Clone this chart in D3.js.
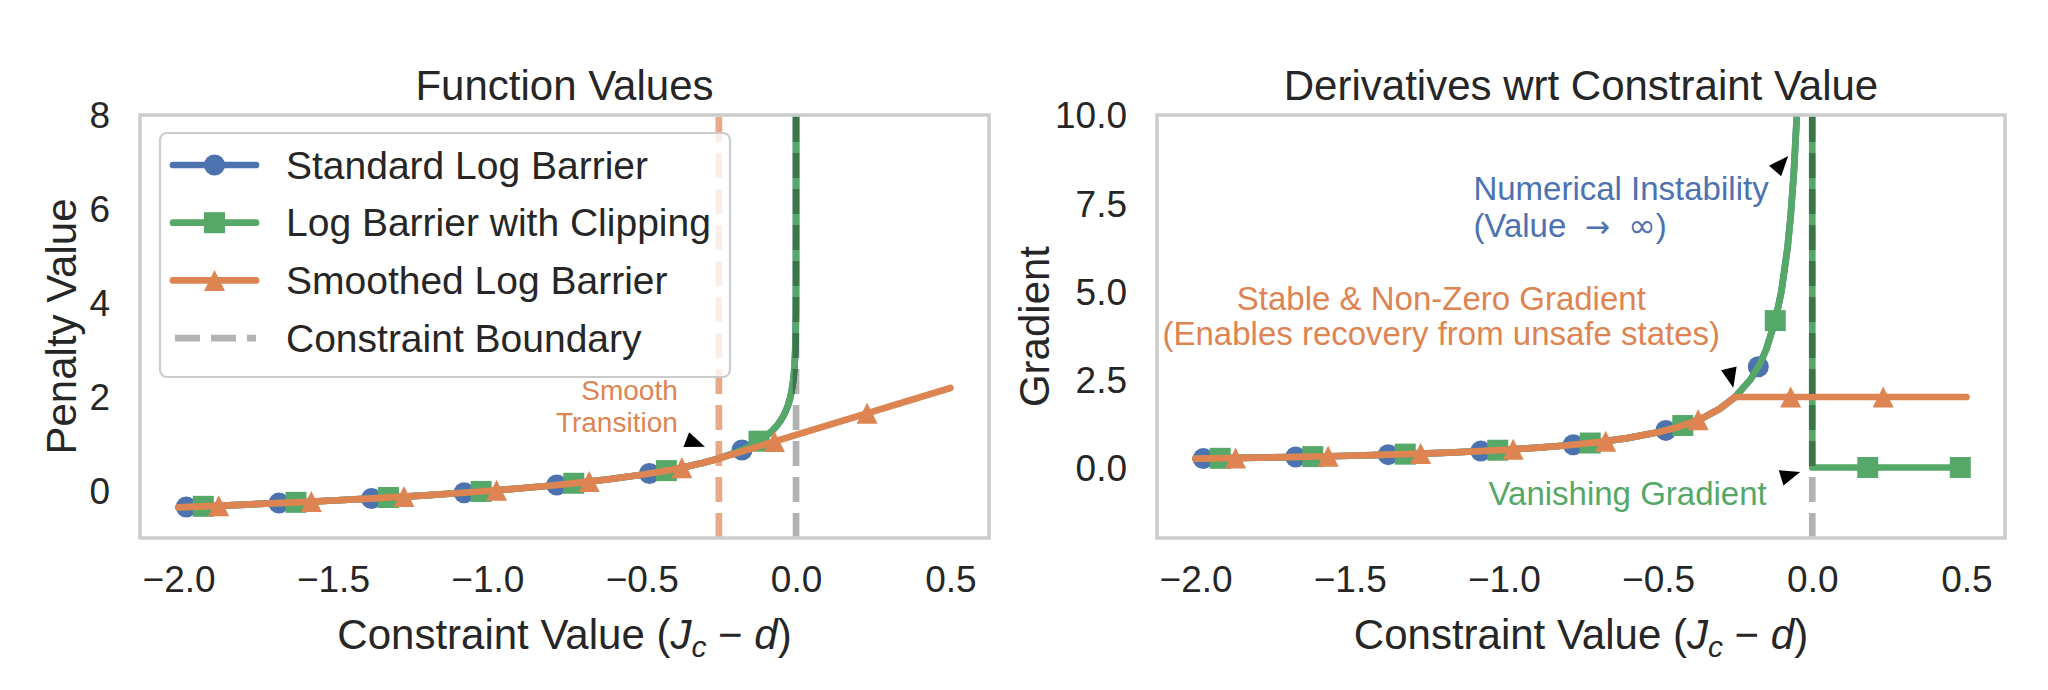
<!DOCTYPE html>
<html><head><meta charset="utf-8">
<script src="https://cdn.jsdelivr.net/npm/d3@7"></script>
<style>
body{margin:0;background:#fff}
text{font-family:"Liberation Sans",Arial,Helvetica,sans-serif;fill:#262626}
</style>
</head><body>
<svg id="c" width="2048" height="690"></svg>
<script>
// ---------------- data ----------------
const curveX = [-2.0,-1.9,-1.8,-1.7,-1.6,-1.5,-1.4,-1.3,-1.2,-1.1,-1.0,-0.9,-0.8,-0.7,-0.6,-0.5,-0.45,-0.4,-0.35,-0.3,-0.25,-0.2,-0.17,-0.15,-0.12,-0.1,-0.08,-0.06,-0.05,-0.04,-0.03,-0.025,-0.02,-0.015,-0.01,-0.007,-0.005,-0.003,-0.002,-0.001,-0.0005,-0.0002,-0.0001,-0.00001,-0.000001,-0.0000001];
const standardValue = [-0.3466,-0.3209,-0.2939,-0.2653,-0.2350,-0.2027,-0.1682,-0.1312,-0.0912,-0.0477,0.0000,0.0527,0.1116,0.1783,0.2554,0.3466,0.3993,0.4581,0.5249,0.6020,0.6931,0.8047,0.8860,0.9486,1.0601,1.1513,1.2629,1.4067,1.4979,1.6094,1.7533,1.8444,1.9560,2.0999,2.3026,2.4809,2.6492,2.9046,3.1073,3.4539,3.8005,4.2586,4.6052,5.7565,6.9078,8.0590];
const clippedValue = standardValue.concat([9.2103, 9.2103]);
const clippedX = curveX.concat([0.0, 0.5]);
const smoothX = [-2.0,-1.9,-1.8,-1.7,-1.6,-1.5,-1.4,-1.3,-1.2,-1.1,-1.0,-0.9,-0.8,-0.7,-0.6,-0.5,-0.45,-0.4,-0.35,-0.3,-0.25,0.5];
const smoothValue = [-0.3466,-0.3209,-0.2939,-0.2653,-0.2350,-0.2027,-0.1682,-0.1312,-0.0912,-0.0477,0.0000,0.0527,0.1116,0.1783,0.2554,0.3466,0.3993,0.4581,0.5249,0.6020,0.6931,2.1931];

const gradX = [-2.0,-1.9,-1.8,-1.7,-1.6,-1.5,-1.4,-1.3,-1.2,-1.1,-1.0,-0.9,-0.8,-0.7,-0.6,-0.5,-0.45,-0.4,-0.35,-0.3,-0.25,-0.2,-0.17,-0.15,-0.12,-0.1,-0.08,-0.07,-0.06,-0.05,-0.04,-0.03,-0.025,-0.02,-0.015,-0.01,-0.005,-0.002,-0.001];
const standardGrad = [0.2500,0.2632,0.2778,0.2941,0.3125,0.3333,0.3571,0.3846,0.4167,0.4545,0.5000,0.5556,0.6250,0.7143,0.8333,1.0000,1.1111,1.2500,1.4286,1.6667,2.0000,2.5000,2.9412,3.3333,4.1667,5.0000,6.2500,7.1429,8.3333,10.000,12.500,16.667,20.000,25.000,33.333,50.000,100.00,250.00,500.00];
const clippedGradX = gradX.concat([0.0, 0.5]);
const clippedGrad = standardGrad.concat([0.0, 0.0]);
const smoothGrad = [0.2500,0.2632,0.2778,0.2941,0.3125,0.3333,0.3571,0.3846,0.4167,0.4545,0.5000,0.5556,0.6250,0.7143,0.8333,1.0000,1.1111,1.2500,1.4286,1.6667,2.0000,2.0000];

// markers
const standardMarkX = [-1.975,-1.675,-1.375,-1.075,-0.775,-0.475,-0.175];
const standardMarkValue = [-0.3403,-0.2579,-0.1592,-0.0362,0.1275,0.3722,0.8715];
const standardMarkGrad = [0.2532,0.2985,0.3636,0.4651,0.6452,1.0526,2.8571];
const clippedMarkX = [-1.92,-1.62,-1.32,-1.02,-0.72,-0.42,-0.12,0.18,0.48];
const clippedMarkValue = [-0.3262,-0.2412,-0.1388,-0.0099,0.1643,0.4338,1.0601,9.2103,9.2103];
const clippedMarkGrad = [0.2604,0.3086,0.3788,0.4902,0.6944,1.1905,4.1667,0.0,0.0];
const smoothMarkX = [-1.87,-1.57,-1.27,-0.97,-0.67,-0.37,-0.07,0.23];
const smoothMarkValue = [-0.3130,-0.2255,-0.1195,0.0152,0.2002,0.4971,1.0531,1.6531];
const smoothMarkGrad = [0.2674,0.3185,0.3937,0.5155,0.7463,1.3514,2.0,2.0];

const xTicks = [-2.0,-1.5,-1.0,-0.5,0.0,0.5];
const xTickLabels = ["\u22122.0","\u22121.5","\u22121.0","\u22120.5","0.0","0.5"];
const leftYTicks = [0,2,4,6,8];
const leftYTickLabels = ["0","2","4","6","8"];
const rightYTicks = [0,2.5,5,7.5,10];
const rightYTickLabels = ["0.0","2.5","5.0","7.5","10.0"];
const legendLabels = ["Standard Log Barrier","Log Barrier with Clipping","Smoothed Log Barrier","Constraint Boundary"];
const boundaryX = 0.0;
const smoothThresholdX = -0.25;

(function(){
// ---------------- styles ----------------
const C = {blue:"#4C72B0", green:"#55A868", orange:"#DD8452"};
const LW = 6.7, MS = 21;
const svg = d3.select("#c");
const yTop = 115, yBot = 538;
const panels = [
  {id:"L", x0:140, x1:989, ydom:[-1,8], title:"Function Values", ylabel:"Penalty Value", ylabX:76,
   yticks:leftYTicks, ylabels:leftYTickLabels},
  {id:"R", x0:1157, x1:2005, ydom:[-2,10], title:"Derivatives wrt Constraint Value", ylabel:"Gradient", ylabX:1049,
   yticks:rightYTicks, ylabels:rightYTickLabels}
];

function markerPath(type, s){
  const h = s/2;
  if(type==="circle") return d3.symbol(d3.symbolCircle, Math.PI*h*h)();
  if(type==="square") return `M${-h},${-h}H${h}V${h}H${-h}Z`;
  return `M0,${-h}L${h},${h}L${-h},${h}Z`;
}

const defs = svg.append("defs");
panels.forEach((p,pi)=>{
  const x = d3.scaleLinear().domain([-2.125,0.625]).range([p.x0,p.x1]);
  const y = d3.scaleLinear().domain(p.ydom).range([yBot,yTop]);
  p.x=x; p.y=y;
  const g = svg.append("g");
  defs.append("clipPath").attr("id","clip"+p.id)
    .append("rect").attr("x",p.x0).attr("y",yTop).attr("width",p.x1-p.x0).attr("height",yBot-yTop);
  const plot = g.append("g").attr("clip-path",`url(#clip${p.id})`);
  const line = d3.line().x(d=>x(d[0])).y(d=>y(d[1]));
  const series = pi===0 ? [
    {xs:curveX, ys:standardValue, mx:standardMarkX, my:standardMarkValue, c:C.blue, m:"circle"},
    {xs:clippedX, ys:clippedValue, mx:clippedMarkX, my:clippedMarkValue, c:C.green, m:"square"},
    {xs:smoothX, ys:smoothValue, mx:smoothMarkX, my:smoothMarkValue, c:C.orange, m:"tri"}
  ] : [
    {xs:gradX, ys:standardGrad, mx:standardMarkX, my:standardMarkGrad, c:C.blue, m:"circle"},
    {xs:clippedGradX, ys:clippedGrad, mx:clippedMarkX, my:clippedMarkGrad, c:C.green, m:"square"},
    {xs:smoothX, ys:smoothGrad, mx:smoothMarkX, my:smoothMarkGrad, c:C.orange, m:"tri"}
  ];
  series.forEach(s=>{
    plot.append("path").datum(s.xs.map((v,i)=>[v,s.ys[i]]))
      .attr("d",line).attr("fill","none").attr("stroke",s.c).attr("stroke-width",LW)
      .attr("stroke-linecap","round").attr("stroke-linejoin","round");
    plot.selectAll(null).data(s.mx.map((v,i)=>[v,s.my[i]])).enter().append("path")
      .attr("d",markerPath(s.m,MS)).attr("fill",s.c)
      .attr("transform",d=>`translate(${x(d[0])},${y(d[1])})`);
  });
  if(pi===0){
    plot.append("line").attr("x1",x(smoothThresholdX)).attr("x2",x(smoothThresholdX))
      .attr("y1",yBot).attr("y2",yTop).attr("stroke",C.orange).attr("stroke-opacity",0.7)
      .attr("stroke-width",LW).attr("stroke-dasharray","25,11");
  }
  plot.append("line").attr("x1",x(boundaryX)).attr("x2",x(boundaryX))
    .attr("y1",yBot).attr("y2",yTop).attr("stroke","#000").attr("stroke-opacity",0.3)
    .attr("stroke-width",LW).attr("stroke-dasharray","25,11");

  // frame
  g.append("rect").attr("x",p.x0).attr("y",yTop).attr("width",p.x1-p.x0).attr("height",yBot-yTop)
    .attr("fill","none").attr("stroke","#cccccc").attr("stroke-width",3.5);

  // axes
  const xa = g.append("g").attr("transform",`translate(0,${yBot})`)
    .call(d3.axisBottom(x).tickValues(xTicks).tickFormat((d,i)=>xTickLabels[i]).tickSize(0));
  xa.select(".domain").remove();
  xa.selectAll("text").attr("y",54).attr("dy",0).attr("font-size",37).attr("fill","#262626")
    .style("font-family",'"Liberation Sans",Arial,sans-serif');
  const ya = g.append("g").attr("transform",`translate(${p.x0-30},0)`)
    .call(d3.axisLeft(y).tickValues(p.yticks).tickFormat((d,i)=>p.ylabels[i]).tickSize(0).tickPadding(0));
  ya.select(".domain").remove();
  ya.selectAll("text").attr("x",0).attr("dy","0.35em").attr("font-size",37).attr("fill","#262626")
    .style("font-family",'"Liberation Sans",Arial,sans-serif');

  // title
  g.append("text").attr("x",(p.x0+p.x1)/2).attr("y",100).attr("text-anchor","middle")
    .attr("font-size",42).text(p.title);
  // y label
  g.append("text").attr("transform",`translate(${p.ylabX},${(yTop+yBot)/2}) rotate(-90)`)
    .attr("text-anchor","middle").attr("font-size",42).text(p.ylabel);
  // x label
  const xl = g.append("text").attr("x",(p.x0+p.x1)/2).attr("y",649).attr("text-anchor","middle").attr("font-size",42);
  xl.append("tspan").text("Constraint Value (");
  xl.append("tspan").attr("font-style","italic").text("J");
  xl.append("tspan").attr("font-style","italic").attr("font-size",30).attr("dy",8).text("c");
  xl.append("tspan").attr("dy",-8).text("\u00a0\u2212\u00a0");
  xl.append("tspan").attr("font-style","italic").text("d");
  xl.append("tspan").text(")");
});

// ---------------- annotations ----------------
function arrowHead(tx,ty,angDeg){
  const a = angDeg*Math.PI/180, len=20, w=8;
  const bx = tx - len*Math.cos(a), by = ty - len*Math.sin(a);
  const px = -Math.sin(a)*w, py = Math.cos(a)*w;
  svg.append("path").attr("d",`M${tx},${ty}L${bx+px},${by+py}L${bx-px},${by-py}Z`).attr("fill","#000");
}
function multiText(x,y,lines,anchor,color,size,lh){
  const t = svg.append("text").attr("x",x).attr("y",y).attr("text-anchor",anchor).attr("font-size",size)
    .style("fill",color);
  lines.forEach((l,i)=>t.append("tspan").attr("x",x).attr("dy",i===0?0:lh).text(l));
  return t;
}
const PL = panels[0], PR = panels[1];
multiText(PL.x(-0.383), PL.y(1.94), ["Smooth","Transition"], "end", C.orange, 28, 32);
arrowHead(PL.x(-0.295), PL.y(0.94), 21);

const ni = multiText(PR.x(-1.099), PR.y(7.59), ["Numerical Instability"], "start", C.blue, 33, 37);
const l2 = ni.append("tspan").attr("x",PR.x(-1.099)).attr("dy",37);
l2.append("tspan").text("(Value\u00a0\u00a0");
l2.append("tspan").style("font-family","'DejaVu Sans'").attr("font-size",30).text("\u2192");
l2.append("tspan").text("\u00a0\u00a0");
l2.append("tspan").style("font-family","'DejaVu Sans'").attr("font-size",33).text("\u221e");
l2.append("tspan").text(")");
arrowHead(PR.x(-0.078), PR.y(8.84), -49);
multiText(PR.x(-1.203), PR.y(4.47), ["Stable & Non-Zero Gradient","(Enables recovery from unsafe states)"], "middle", C.orange, 33, 35);
arrowHead(PR.x(-0.256), PR.y(2.26), 77);
multiText(PR.x(-1.05), PR.y(-1.06), ["Vanishing Gradient"], "start", C.green, 33, 35);
arrowHead(PR.x(-0.039), PR.y(-0.13), -17);

// ---------------- legend ----------------
const lg = svg.append("g");
lg.append("rect").attr("x",160).attr("y",133).attr("width",570).attr("height",244).attr("rx",7)
  .attr("fill","#fff").attr("fill-opacity",0.8).attr("stroke","#cccccc").attr("stroke-width",2.2);
const legendColors = [C.blue,C.green,C.orange,"#b3b3b3"];
const legendMarkers = ["circle","square","tri",null];
legendLabels.forEach((lab,i)=>{
  const yy = 165 + i*57.7;
  if(legendMarkers[i]){
    lg.append("line").attr("x1",173).attr("x2",256).attr("y1",yy).attr("y2",yy)
      .attr("stroke",legendColors[i]).attr("stroke-width",LW).attr("stroke-linecap","round");
    lg.append("path").attr("d",markerPath(legendMarkers[i],MS)).attr("fill",legendColors[i])
      .attr("transform",`translate(214.5,${yy})`);
  } else {
    lg.append("line").attr("x1",175).attr("x2",256).attr("y1",yy).attr("y2",yy)
      .attr("stroke",legendColors[i]).attr("stroke-width",LW).attr("stroke-dasharray","25,11");
  }
  lg.append("text").attr("x",286).attr("y",yy+13.5).attr("font-size",39).text(lab);
});
})();
</script>
</body></html>
